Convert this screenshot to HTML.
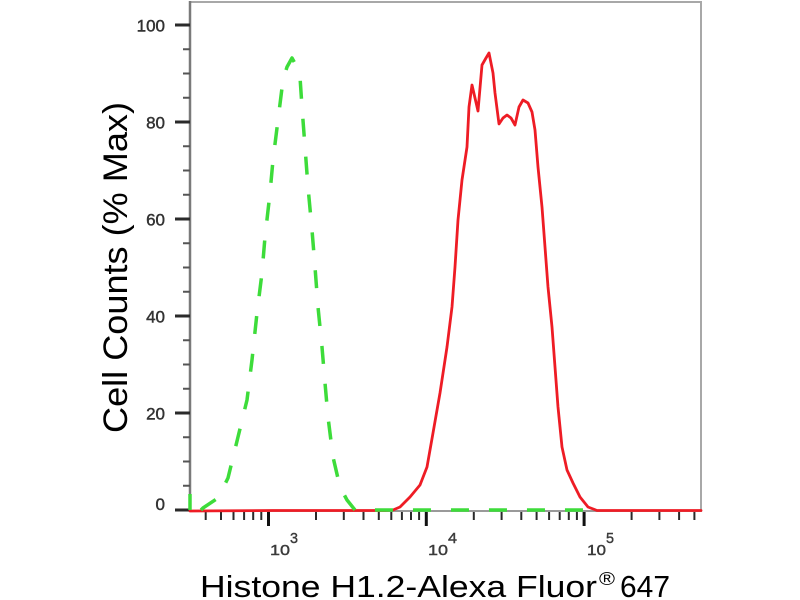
<!DOCTYPE html>
<html>
<head>
<meta charset="utf-8">
<style>
  html, body { margin:0; padding:0; background:#fff; }
  svg { display:block; }
</style>
</head>
<body>
<svg width="800" height="600" viewBox="0 0 800 600" xmlns="http://www.w3.org/2000/svg">
  <rect x="0" y="0" width="800" height="600" fill="#fff"/>

  <!-- frame -->
  <line x1="190" y1="2" x2="702" y2="2" stroke="#a8a8a8" stroke-width="2"/>
  <line x1="701" y1="1" x2="701" y2="512" stroke="#a8a8a8" stroke-width="2"/>
  <line x1="190" y1="511" x2="702" y2="511" stroke="#9a9a9a" stroke-width="2"/>
  <line x1="190" y1="1" x2="190" y2="512" stroke="#7a7a7a" stroke-width="2.5"/>

  <!-- Y minor ticks -->
  <g stroke="#555" stroke-width="2">
    <line x1="183" y1="485.75" x2="190" y2="485.75"/>
    <line x1="183" y1="461.5" x2="190" y2="461.5"/>
    <line x1="183" y1="437.25" x2="190" y2="437.25"/>
    <line x1="183" y1="388.75" x2="190" y2="388.75"/>
    <line x1="183" y1="364.5" x2="190" y2="364.5"/>
    <line x1="183" y1="340.25" x2="190" y2="340.25"/>
    <line x1="183" y1="291.75" x2="190" y2="291.75"/>
    <line x1="183" y1="267.5" x2="190" y2="267.5"/>
    <line x1="183" y1="243.25" x2="190" y2="243.25"/>
    <line x1="183" y1="194.75" x2="190" y2="194.75"/>
    <line x1="183" y1="170.5" x2="190" y2="170.5"/>
    <line x1="183" y1="146.25" x2="190" y2="146.25"/>
    <line x1="183" y1="97.75" x2="190" y2="97.75"/>
    <line x1="183" y1="73.5" x2="190" y2="73.5"/>
    <line x1="183" y1="49.25" x2="190" y2="49.25"/>
  </g>
  <!-- Y major ticks -->
  <g stroke="#2a2a2a" stroke-width="3">
    <line x1="175" y1="510" x2="190" y2="510"/>
    <line x1="175" y1="413" x2="190" y2="413"/>
    <line x1="175" y1="316" x2="190" y2="316"/>
    <line x1="175" y1="219" x2="190" y2="219"/>
    <line x1="175" y1="122" x2="190" y2="122"/>
    <line x1="175" y1="25" x2="190" y2="25"/>
  </g>
  <!-- Y labels -->
  <g font-family="Liberation Sans, Arial, sans-serif" font-size="17" fill="#333" stroke="#333" stroke-width="0.45" text-anchor="end">
    <text x="165" y="510">0</text>
    <text x="165" y="419.5">20</text>
    <text x="165" y="322.5">40</text>
    <text x="165" y="225.5">60</text>
    <text x="165" y="128.5">80</text>
    <text x="165" y="31.5">100</text>
  </g>

  <!-- X minor ticks -->
  <g stroke="#2a2a2a" stroke-width="2">
    <line x1="205.7" y1="512" x2="205.7" y2="520"/>
    <line x1="221" y1="512" x2="221" y2="520"/>
    <line x1="233.5" y1="512" x2="233.5" y2="520"/>
    <line x1="244.1" y1="512" x2="244.1" y2="520"/>
    <line x1="253.2" y1="512" x2="253.2" y2="520"/>
    <line x1="261.3" y1="512" x2="261.3" y2="520"/>
    <line x1="316" y1="512" x2="316" y2="520"/>
    <line x1="343.8" y1="512" x2="343.8" y2="520"/>
    <line x1="363.5" y1="512" x2="363.5" y2="520"/>
    <line x1="378.8" y1="512" x2="378.8" y2="520"/>
    <line x1="391.3" y1="512" x2="391.3" y2="520"/>
    <line x1="401.9" y1="512" x2="401.9" y2="520"/>
    <line x1="411" y1="512" x2="411" y2="520"/>
    <line x1="419.1" y1="512" x2="419.1" y2="520"/>
    <line x1="473.8" y1="512" x2="473.8" y2="520"/>
    <line x1="501.6" y1="512" x2="501.6" y2="520"/>
    <line x1="521.3" y1="512" x2="521.3" y2="520"/>
    <line x1="536.6" y1="512" x2="536.6" y2="520"/>
    <line x1="549.1" y1="512" x2="549.1" y2="520"/>
    <line x1="559.7" y1="512" x2="559.7" y2="520"/>
    <line x1="568.8" y1="512" x2="568.8" y2="520"/>
    <line x1="576.9" y1="512" x2="576.9" y2="520"/>
    <line x1="631.6" y1="512" x2="631.6" y2="520"/>
    <line x1="659.4" y1="512" x2="659.4" y2="520"/>
    <line x1="679.1" y1="512" x2="679.1" y2="520"/>
    <line x1="694.4" y1="512" x2="694.4" y2="520"/>
  </g>
  <!-- X major ticks -->
  <g stroke="#111" stroke-width="3">
    <line x1="268.5" y1="512" x2="268.5" y2="526"/>
    <line x1="426.3" y1="512" x2="426.3" y2="526"/>
    <line x1="584.1" y1="512" x2="584.1" y2="526"/>
  </g>
  <!-- X labels -->
  <g font-family="Liberation Sans, Arial, sans-serif" fill="#3a3a3a" stroke="#3a3a3a" stroke-width="0.4">
    <text x="270" y="555" font-size="14.5" textLength="20" lengthAdjust="spacingAndGlyphs">10</text>
    <text x="290" y="543" font-size="15" textLength="8" lengthAdjust="spacingAndGlyphs">3</text>
    <text x="428" y="555" font-size="14.5" textLength="20" lengthAdjust="spacingAndGlyphs">10</text>
    <text x="448" y="543" font-size="15" textLength="9" lengthAdjust="spacingAndGlyphs">4</text>
    <text x="587" y="555" font-size="14.5" textLength="19" lengthAdjust="spacingAndGlyphs">10</text>
    <text x="606" y="543" font-size="15" textLength="8" lengthAdjust="spacingAndGlyphs">5</text>
  </g>

  <!-- red series -->
  <polyline fill="none" stroke="#ee1c25" stroke-width="2.8" stroke-linejoin="round" stroke-linecap="round"
    points="190,511 273,510.5 385,510.5 393,510 400,507 410,497 420,485 427,467 433,433 440,393 447,347 452,307 455,267 458,220 462,180 467,147 469,107 472,85 475,98 478,111 482,65 486,58 489,53 493,73 495,93 499,124 503,118 507,115 511,118 515,125 519,107 523,100 528,103 532,112 535,130 538,167 542,207 545,247 548,287 552,327 555,367 558,407 562,447 567,470 573,483 580,497 588,507 597,510.5 701,510.5"/>

  <!-- green series (dashed) -->
  <line x1="190" y1="494" x2="190" y2="510" stroke="#3ddc3a" stroke-width="3.5"/>
  <polyline fill="none" stroke="#3ddc3a" stroke-width="3.5" stroke-dasharray="18 20" stroke-linejoin="round"
    points="201,510 203,508 218,498 228,478 238,437 247,400 252,360 257,313 262,273 265,237 270,193 273,160 278,120 283,80 287,67 292,58 297,67 300,77 302,107 305,147 308,187 312,230 315,267 318,307 322,347 325,383 328,417 333,457 340,487 347,500 355,510 595,510"/>

  <!-- axis titles -->
  <text transform="translate(127,267.5) rotate(-90)" text-anchor="middle"
        font-family="Liberation Sans, Arial, sans-serif" font-size="34" fill="#000"
        textLength="331" lengthAdjust="spacingAndGlyphs">Cell Counts (% Max)</text>

  <g font-family="Liberation Sans, Arial, sans-serif" fill="#000">
    <text x="200" y="597" font-size="31" textLength="397" lengthAdjust="spacingAndGlyphs">Histone H1.2-Alexa Fluor</text>
    <text x="599" y="585" font-size="18" textLength="16" lengthAdjust="spacingAndGlyphs">®</text>
    <text x="620" y="597" font-size="31" textLength="50" lengthAdjust="spacingAndGlyphs">647</text>
  </g>
</svg>
</body>
</html>
